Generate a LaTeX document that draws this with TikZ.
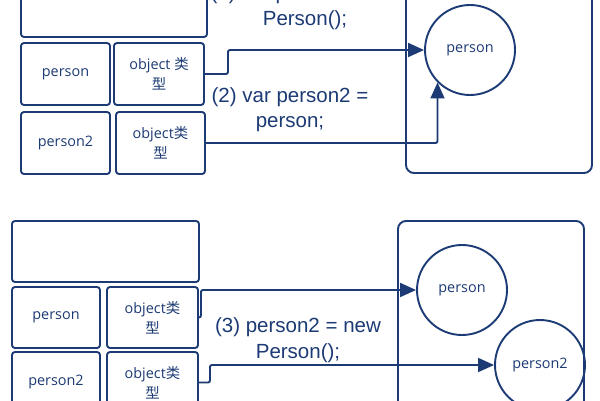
\documentclass[tikz,border=0pt]{standalone}
\usepackage{fontspec}
\setmainfont{Liberation Sans}
\newfontfamily\boxfont{Open Sans}
\newfontfamily\cjk{Noto Sans CJK SC}
\usetikzlibrary{arrows.meta}
\definecolor{navy}{HTML}{1C3A74}
\tikzset{
  box/.style={draw=navy, line width=1.9pt, rounded corners=3pt, inner sep=0pt, text=navy, align=center,
    font=\fontsize{14.4}{20}\selectfont\boxfont},
  cont/.style={draw=navy, line width=1.9pt, rounded corners=8pt, inner sep=0pt},
  obj/.style={draw=navy, line width=1.9pt, circle, inner sep=0pt, minimum size=90pt, text=navy,
    font=\fontsize{14.4}{20}\selectfont\boxfont},
  arr/.style={draw=navy, line width=1.9pt, rounded corners=2pt, -{Triangle[length=16pt,width=14pt]}},
  lab/.style={text=navy, align=center, inner sep=0pt, font=\fontsize{20.5}{25.5}\selectfont}
}
\begin{document}
\begin{tikzpicture}[x=1pt,y=-1pt]
\useasboundingbox (0,0) rectangle (600,400);
% ---- top section ----
\node[box, minimum width=186pt, minimum height=80pt] (tb1) at (114,-3) {};
\node[box, minimum width=89pt, minimum height=62pt] (p1) at (65.5,74) {person};
\node[box, minimum width=90pt, minimum height=62pt] (o1) at (159,74) {object {\cjk 类}\\{\cjk 型}};
\node[box, minimum width=89pt, minimum height=62pt] (p2) at (65.5,143) {person2};
\node[box, minimum width=89pt, minimum height=62pt] (o2) at (160.5,143) {object{\cjk 类}\\{\cjk 型}};
\node[cont, minimum width=186pt, minimum height=193pt] (k1) at (499,76.5) {};
\node[obj] (c1) at (470,50) {person};
\draw[arr] (o1.east) -- ++(23,0) |- (c1.west);
\draw[arr] (o2.east) -| (c1.south west);
\node[lab] (l1) at (305,7.2) {(1) var person = new\\Person();};
\node[lab] (l2) at (290,109.7) {(2) var person2 =\\person;};
% ---- bottom section ----
\node[box, minimum width=187pt, minimum height=61pt] (tb2) at (105.5,251.5) {};
\node[box, minimum width=88pt, minimum height=61pt] (p3) at (56,317.5) {person};
\node[box, minimum width=91pt, minimum height=61pt] (o3) at (152.5,317.5) {object{\cjk 类}\\{\cjk 型}};
\node[box, minimum width=88pt, minimum height=61pt] (p4) at (56,382.5) {person2};
\node[box, minimum width=91pt, minimum height=61pt] (o4) at (152.5,382.5) {object{\cjk 类}\\{\cjk 型}};
\node[cont, minimum width=186pt, minimum height=200pt] (k2) at (491,321) {};
\node[obj] (c2) at (462,290) {person};
\node[obj] (c3) at (540,365) {person2};
\draw[arr] (o3.east) -- ++(2,0) |- (c2.west);
\draw[arr] (o4.east) -- ++(11,0) |- (c3.west);
\node[lab] (l3) at (298,340.2) {(3) person2 = new\\Person();};
\end{tikzpicture}
\end{document}
